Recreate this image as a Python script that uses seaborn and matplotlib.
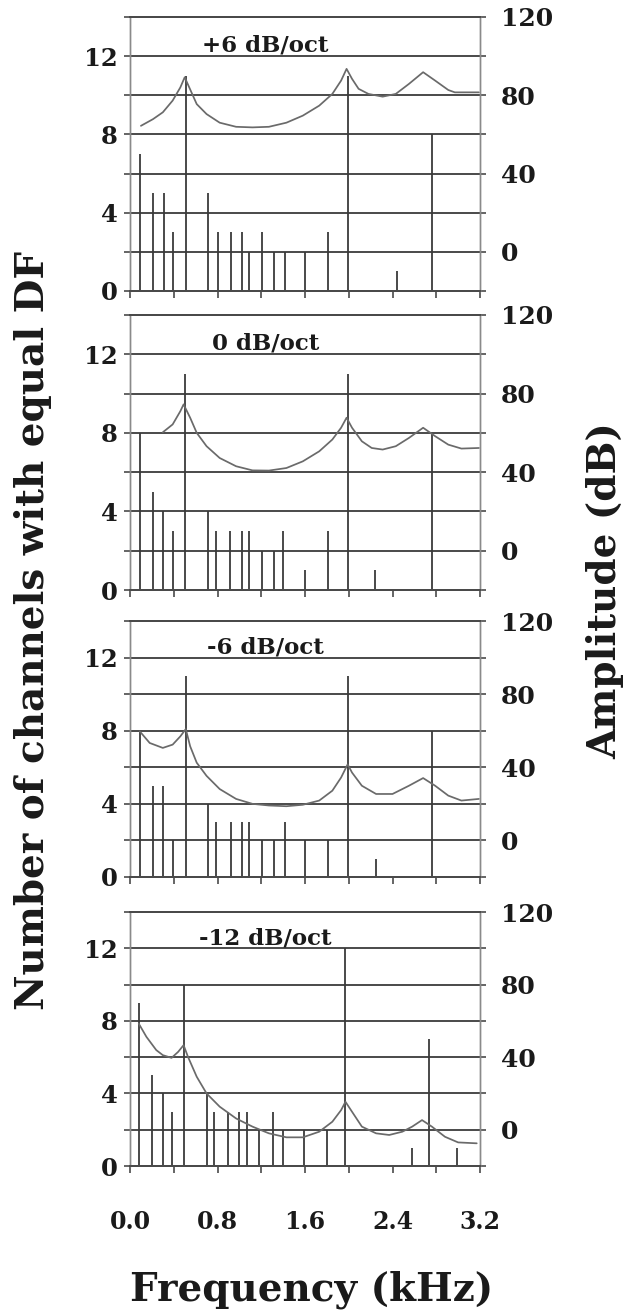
import numpy as np
import pandas as pd
import matplotlib.pyplot as plt
import seaborn as sns

sns.set_theme(style='white')
plt.rcParams['font.family'] = ['DejaVu Serif']
plt.rcParams['font.weight'] = 'bold'

# ── datos: títulos de panel ─────────────────────────────────────────────
titles = ['+6 dB/oct', '0 dB/oct', '-6 dB/oct', '-12 dB/oct']

# ── número de canales con igual DF (kHz, cuenta) ────────────────────────
df_freq_p1 = [0.09, 0.21, 0.31, 0.39, 0.51, 0.71, 0.80, 0.92, 1.02, 1.09,
              1.21, 1.32, 1.42, 1.60, 1.81, 1.99, 2.44, 2.76]
df_count_p1 = [7, 5, 5, 3, 11, 5, 3, 3, 3, 2, 3, 2, 2, 2, 3, 11, 1, 8]

df_freq_p2 = [0.09, 0.21, 0.30, 0.39, 0.50, 0.71, 0.79, 0.91, 1.02, 1.09,
              1.21, 1.32, 1.40, 1.60, 1.81, 1.99, 2.24, 2.76]
df_count_p2 = [8, 5, 4, 3, 11, 4, 3, 3, 3, 3, 2, 2, 3, 1, 3, 11, 1, 8]

df_freq_p3 = [0.09, 0.21, 0.30, 0.39, 0.51, 0.71, 0.79, 0.92, 1.02, 1.09,
              1.21, 1.32, 1.42, 1.60, 1.81, 1.99, 2.25, 2.76]
df_count_p3 = [8, 5, 5, 2, 11, 4, 3, 3, 3, 3, 2, 2, 3, 2, 2, 11, 1, 8]

df_freq_p4 = [0.08, 0.20, 0.30, 0.38, 0.49, 0.70, 0.77, 0.90, 1.00, 1.07,
              1.18, 1.31, 1.40, 1.59, 1.80, 1.97, 2.58, 2.73, 2.99]
df_count_p4 = [9, 5, 4, 3, 10, 4, 3, 3, 3, 3, 2, 3, 2, 2, 2, 12, 1, 7, 1]

# ── espectro de amplitud (kHz, dB) ──────────────────────────────────────
amp_freq_p1 = [0.10, 0.21, 0.30, 0.39, 0.46, 0.50, 0.55, 0.61, 0.70, 0.82,
               0.97, 1.12, 1.27, 1.43, 1.58, 1.73, 1.85, 1.93, 1.98, 2.03,
               2.09, 2.18, 2.31, 2.43, 2.55, 2.68, 2.79, 2.91, 2.97, 3.19]
amp_db_p1 = [64.4, 67.8, 71.3, 77.3, 84.0, 89.2, 83.0, 75.5, 70.4, 66.0,
             63.9, 63.6, 63.9, 66.0, 69.6, 74.7, 80.7, 87.5, 93.5, 88.4,
             83.3, 80.7, 79.3, 80.7, 85.8, 91.8, 87.5, 82.7, 81.5, 81.5]

amp_freq_p2 = [0.30, 0.39, 0.46, 0.49, 0.55, 0.61, 0.70, 0.82, 0.97, 1.12,
               1.27, 1.43, 1.58, 1.73, 1.85, 1.93, 1.98, 2.03, 2.12, 2.21,
               2.31, 2.43, 2.55, 2.68, 2.79, 2.91, 3.03, 3.19]
amp_db_p2 = [60.3, 64.3, 71.0, 74.5, 67.7, 60.0, 53.2, 47.2, 43.0, 40.9,
             40.8, 42.1, 45.5, 50.6, 56.6, 62.6, 67.7, 62.6, 55.7, 52.3,
             51.5, 53.2, 57.4, 62.6, 58.3, 54.0, 52.0, 52.3]

amp_freq_p3 = [0.09, 0.18, 0.30, 0.39, 0.46, 0.51, 0.55, 0.61, 0.70, 0.82,
               0.97, 1.12, 1.27, 1.43, 1.58, 1.73, 1.85, 1.93, 1.99, 2.03,
               2.12, 2.25, 2.40, 2.55, 2.68, 2.79, 2.91, 3.03, 3.19]
amp_db_p3 = [59.6, 53.3, 50.6, 52.4, 56.9, 60.9, 51.5, 42.5, 35.3, 28.1,
             22.7, 20.0, 19.1, 18.7, 19.5, 21.8, 27.2, 34.4, 41.6, 37.1,
             29.9, 25.4, 25.4, 29.9, 34.1, 29.9, 24.5, 21.8, 22.7]

amp_freq_p4 = [0.08, 0.15, 0.24, 0.30, 0.38, 0.44, 0.49, 0.53, 0.61, 0.70,
               0.82, 0.97, 1.12, 1.27, 1.43, 1.58, 1.73, 1.85, 1.93, 1.97,
               2.03, 2.12, 2.25, 2.37, 2.49, 2.58, 2.67, 2.76, 2.88, 3.00,
               3.17]
amp_db_p4 = [58.5, 51.2, 43.9, 41.1, 39.6, 42.9, 46.6, 40.2, 29.2, 20.0,
             12.7, 6.2, 1.7, -2.0, -4.2, -4.2, -1.1, 4.4, 10.8, 15.4,
             9.9, 1.7, -2.0, -2.9, -1.1, 1.7, 5.3, 1.7, -3.9, -7.0,
             -7.5]

x_ticks = [0.0, 0.4, 0.8, 1.2, 1.6, 2.0, 2.4, 2.8, 3.2]
x_labels = ['0.0', '', '0.8', '', '1.6', '', '2.4', '', '3.2']
left_ticks = [0, 2, 4, 6, 8, 10, 12, 14]
left_labels = ['0', '', '4', '', '8', '', '12', '']
right_ticks = [0, 40, 80, 120]

paneles = [
    (titles[0], df_freq_p1, df_count_p1, amp_freq_p1, amp_db_p1),
    (titles[1], df_freq_p2, df_count_p2, amp_freq_p2, amp_db_p2),
    (titles[2], df_freq_p3, df_count_p3, amp_freq_p3, amp_db_p3),
    (titles[3], df_freq_p4, df_count_p4, amp_freq_p4, amp_db_p4),
]

# posiciones de los ejes (px: borde superior, borde inferior)
W, H = 628, 1312
cajas = [(17, 291), (315, 590), (621, 877), (912, 1166)]

GRID = '#4a4a4a'
STEM = '#3a3a3a'
CURVA = '#6a6a6a'
TXT = '#1a1a1a'

fig = plt.figure(figsize=(W / 100, H / 100), dpi=100)
fig.patch.set_facecolor('white')

for i, ((top, bot), (tit, fq, cnt, af, adb)) in enumerate(zip(cajas, paneles)):
    ax = fig.add_axes([130 / W, 1 - bot / H, 350 / W, (bot - top) / H])
    ax.set_xlim(0, 3.2)
    ax.set_ylim(0, 14)
    ax.set_facecolor('white')

    # rejilla horizontal
    for yv in left_ticks[1:-1]:
        ax.axhline(yv, color=GRID, lw=1.4, zorder=1)

    # barras finas (número de canales)
    ax.vlines(fq, 0, cnt, color=STEM, lw=1.3, zorder=2)

    # espectro en eje derecho
    ax2 = ax.twinx()
    ax2.set_ylim(-20, 120)
    d = pd.DataFrame({'f': af, 'db': adb})
    sns.lineplot(data=d, x='f', y='db', ax=ax2, color=CURVA, lw=1.25,
                 estimator=None, sort=False)
    ax2.set_xlabel('')
    ax2.set_ylabel('')

    ax.set_xticks(x_ticks)
    ax.set_xticklabels(x_labels if i == 3 else [''] * len(x_ticks))
    ax.set_yticks(left_ticks)
    ax.set_yticklabels(left_labels)
    ax.tick_params(axis='x', bottom=True, direction='out', length=5, width=1.2,
                   color=GRID, pad=27, labelsize=17, labelcolor=TXT)
    ax.tick_params(axis='y', left=True, right=True, direction='out', length=4,
                   width=1.2, color=GRID, pad=5, labelsize=17.5, labelcolor=TXT)
    ax2.set_yticks(right_ticks)
    ax2.set_yticklabels([str(v) for v in right_ticks])
    ax2.tick_params(axis='y', right=True, length=0, pad=15, labelsize=18,
                    labelcolor=TXT)

    for a in (ax, ax2):
        a.spines['left'].set_color('#8a8a8a')
        a.spines['right'].set_color('#8a8a8a')
        a.spines['left'].set_linewidth(1.0)
        a.spines['right'].set_linewidth(1.0)
        a.spines['top'].set_color(GRID)
        a.spines['top'].set_linewidth(1.4)
        a.spines['bottom'].set_color(GRID)
        a.spines['bottom'].set_linewidth(1.4)

    ax.text(1.24, 12.55, tit, ha='center', va='center', fontsize=16.5,
            fontweight='bold', color=TXT, zorder=3)

fig.text(33 / W, 1 - 631 / H, 'Number of channels with equal DF', rotation=90,
         ha='center', va='center', fontsize=28, fontweight='bold', color=TXT)
fig.text(605 / W, 1 - 591 / H, 'Amplitude (dB)', rotation=90,
         ha='center', va='center', fontsize=28, fontweight='bold', color=TXT)
fig.text(312 / W, 1 - 1290 / H, 'Frequency (kHz)',
         ha='center', va='center', fontsize=28, fontweight='bold', color=TXT)

fig.savefig('out.png', dpi=100, facecolor='white')
